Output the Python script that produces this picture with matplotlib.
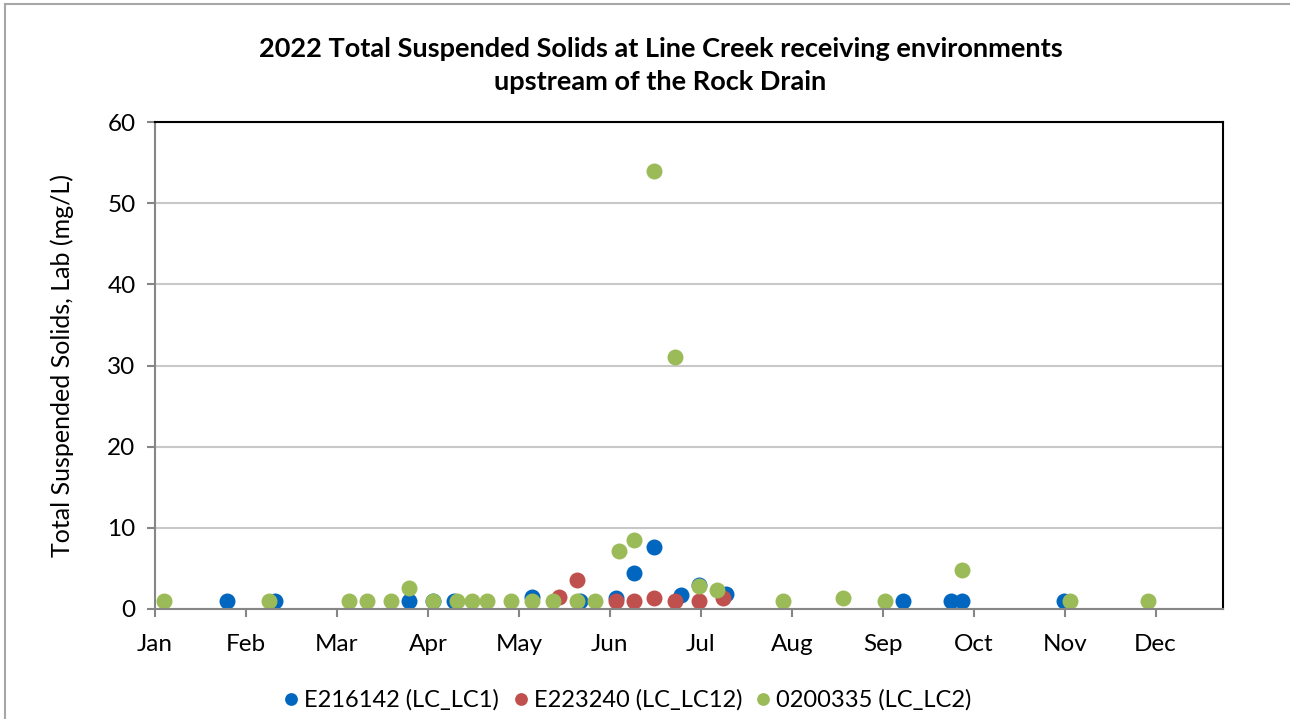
import numpy as np
import pandas as pd
import matplotlib
matplotlib.use("Agg")
import matplotlib.pyplot as plt
from matplotlib.patches import Rectangle

plt.rcParams['font.family'] = ['Lato', 'DejaVu Sans']

## Data (TSS, mg/L)
lc1_dates = ['2022-01-25', '2022-02-10', '2022-03-27', '2022-04-04', '2022-04-11',
             '2022-05-07', '2022-05-23', '2022-06-04', '2022-06-10', '2022-06-17',
             '2022-06-26', '2022-07-02', '2022-07-11', '2022-09-08', '2022-09-24',
             '2022-09-28', '2022-11-01']
lc1_tss = [1.0, 1.0, 1.0, 1.0, 1.0,
           1.5, 1.0, 1.4, 4.4, 7.6,
           1.7, 3.0, 1.9, 1.0, 1.0,
           1.0, 1.0]

lc12_dates = ['2022-05-16', '2022-05-22', '2022-06-04', '2022-06-10', '2022-06-17',
              '2022-06-24', '2022-07-02', '2022-07-10']
lc12_tss = [1.5, 3.6, 1.0, 1.0, 1.3, 1.0, 1.0, 1.3]

lc2_dates = ['2022-01-04', '2022-02-08', '2022-03-07', '2022-03-13', '2022-03-21',
             '2022-03-27', '2022-04-04', '2022-04-12', '2022-04-17', '2022-04-22',
             '2022-04-30', '2022-05-07', '2022-05-14', '2022-05-22', '2022-05-28',
             '2022-06-05', '2022-06-10', '2022-06-17', '2022-06-24', '2022-07-02',
             '2022-07-08', '2022-07-30', '2022-08-19', '2022-09-02', '2022-09-28',
             '2022-11-03', '2022-11-29']
lc2_tss = [1.0, 1.0, 1.0, 1.0, 1.0,
           2.6, 1.0, 1.0, 1.0, 1.0,
           1.0, 1.0, 1.0, 1.0, 1.0,
           7.2, 8.5, 54.0, 31.0, 2.8,
           2.4, 1.0, 1.4, 1.0, 4.8,
           1.0, 1.0]

months = ['Jan', 'Feb', 'Mar', 'Apr', 'May', 'Jun',
          'Jul', 'Aug', 'Sep', 'Oct', 'Nov', 'Dec']

series = [
    ('E216142 (LC_LC1)', lc1_dates, lc1_tss, '#0066c0'),
    ('E223240 (LC_LC12)', lc12_dates, lc12_tss, '#c0504d'),
    ('0200335 (LC_LC2)', lc2_dates, lc2_tss, '#9bbb59'),
]

def day_of_year(dates):
    d = pd.to_datetime(dates)
    return (d - pd.Timestamp('2022-01-01')).days.values

fig = plt.figure(figsize=(12.9, 7.19), dpi=100)
ax = fig.add_axes([0.1202, 0.153, 0.948 - 0.1202, 0.8303 - 0.153])

for name, dates, vals, col in series:
    ax.plot(day_of_year(dates), vals, linestyle='none', marker='o',
            markersize=11.5, color=col, markeredgewidth=0, label=name)

# axis: month ticks evenly spaced
step = 365 / 12.
ax.set_xlim(0, 11.74 * step)
ax.set_xticks(np.arange(12) * step)
ax.set_xticklabels(months)
ax.set_ylim(0, 60)
ax.set_yticks(np.arange(0, 61, 10))

ax.grid(axis='y', color='#c8c8c8', lw=1.5)
ax.set_axisbelow(True)
for s in ['top', 'right']:
    ax.spines[s].set_color('black')
    ax.spines[s].set_linewidth(1.5)
for s in ['left', 'bottom']:
    ax.spines[s].set_color('#868686')
    ax.spines[s].set_linewidth(1.5)
ax.tick_params(axis='both', colors='#868686', length=6, width=1.5,
               labelcolor='black', labelsize=17.5)
ax.tick_params(axis='x', pad=12)
ax.tick_params(axis='y', pad=8)

ax.set_ylabel('Total Suspended Solids, Lab (mg/L)', fontsize=18, labelpad=24)

fig.text(0.512, 0.909, '2022 Total Suspended Solids at Line Creek receiving environments\n'
         'upstream of the Rock Drain', ha='center', va='center',
         fontsize=19.5, fontweight='bold', linespacing=1.45)

leg = fig.legend(loc='center', bbox_to_anchor=(0.485, 0.026), ncol=3, frameon=False,
                 fontsize=17, handletextpad=0.05, columnspacing=0.4,
                 markerscale=0.8, handlelength=1.0)

# outer chart border
fig.patches.append(Rectangle((5 / 1290, -0.05), 1.2, 1 - 4 / 719 + 0.05,
                             transform=fig.transFigure, fill=False,
                             edgecolor='#a6a6a6', lw=1.5))

fig.savefig('out.png', dpi=100)
